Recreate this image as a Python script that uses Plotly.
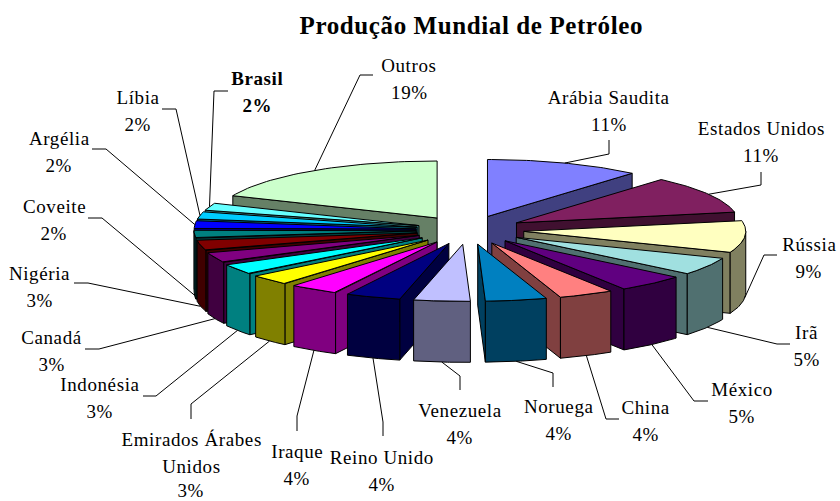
import math
import plotly.graph_objects as go

TITLE = "Produção Mundial de Petróleo"
countries = ["Arábia Saudita", "Estados Unidos", "Rússia", "Irã", "México", "China", "Noruega",
             "Venezuela", "Reino Unido", "Iraque", "Emirados Árabes Unidos", "Indonésia", "Canadá",
             "Nigéria", "Coveite", "Argélia", "Líbia", "Brasil", "Outros"]
shares = [11.3, 10.7, 9, 5, 5, 4, 4.45, 4.1, 4, 3.6, 3, 3, 2.9, 2.9, 2.2, 2.15, 2.05, 2.05, 18.6]
explode = [56, 56, 56, 56, 56, 56, 56, 56, 56, 56, 56, 55, 53, 52, 52, 52, 52, 52, 56]
top_colors = ["#8080FF", "#802060", "#FFFFC0", "#A0E0E0", "#600080", "#FF8080", "#0080C0",
              "#C0C0FF", "#000080", "#FF00FF", "#FFFF00", "#00FFFF", "#800080", "#800000",
              "#008080", "#0000FF", "#00CCFF", "#66FFFF", "#CCFFCC"]
side_colors = ["#404080", "#401030", "#808060", "#507070", "#300040", "#804040", "#004060",
               "#606080", "#000040", "#800080", "#808000", "#008080", "#400040", "#400000",
               "#004040", "#000080", "#006680", "#338080", "#668066"]

# projection of the pie (plot units equal screen pixels)
CX, CY, RX, RY, DEPTH = 468, 230, 222, 57, 61

# label layout: centre x, y of first text line, elbow and end of the leader line
label_x = [609, 761, 809, 807, 742, 646, 559, 460, 382, 297, 191, 100, 52, 40, 54, 59, 138, 257, 409]
label_y = [97, 128, 244, 332, 389, 407, 406, 410, 457, 451, 439, 384, 337, 273, 206, 138, 97, 78, 65]
elbow = [(609, 154), (761, 185), (764, 255), (777, 344), (694, 401), (606, 419), (553, 373),
         (460, 376), (383, 422), (297, 416), (191, 404), (156, 396), (99, 349), (88, 283),
         (102, 218), (106, 149), (176, 109), (214, 91), (360, 75)]
leader_end = [(609, 140), (761, 172), (777, 255), (790, 344), (708, 401), (619, 419), (553, 387),
              (460, 390), (383, 436), (297, 431), (191, 419), (143, 396), (85, 349), (74, 283),
              (88, 218), (92, 149), (162, 109), (228, 91), (373, 75)]

LINE = 27
FONT = "Liberation Serif"
fig = go.Figure()
total = sum(shares)

slices = []
acc = 0
for i, v in enumerate(shares):
    a0 = acc / total * 2 * math.pi
    acc += v
    a1 = acc / total * 2 * math.pi
    slices.append((i, a0, a1, (a0 + a1) / 2))


def apex(mid, d):
    return CX + d * math.sin(mid), CY - d * RY / RX * math.cos(mid)


def rim(ax, ay, t):
    return ax + RX * math.sin(t), ay - RY * math.cos(t)


def poly(pts, fill, name):
    xs = [p[0] for p in pts] + [pts[0][0]]
    ys = [p[1] for p in pts] + [pts[0][1]]
    fig.add_trace(go.Scatter(x=xs, y=ys, mode="lines", fill="toself", fillcolor=fill,
                             line=dict(color="black", width=1), hoverinfo="skip",
                             name=name, showlegend=False))


for i, a0, a1, mid in sorted(slices, key=lambda s: -math.cos(s[3])):
    ax, ay = apex(mid, explode[i])
    name = countries[i]
    # radial walls
    for a, vis in ((a0, math.sin(a0) < -1e-9), (a1, math.sin(a1) > 1e-9)):
        if vis:
            rx, ry = rim(ax, ay, a)
            poly([(ax, ay), (rx, ry), (rx, ry + DEPTH), (ax, ay + DEPTH)], side_colors[i], name)
    # outer wall
    lo, hi = max(a0, math.pi / 2), min(a1, 3 * math.pi / 2)
    if hi > lo:
        n = 30
        arc = [rim(ax, ay, lo + (hi - lo) * k / n) for k in range(n + 1)]
        poly(arc + [(x, y + DEPTH) for x, y in reversed(arc)], side_colors[i], name)
    # top face
    n = 40
    poly([(ax, ay)] + [rim(ax, ay, a0 + (a1 - a0) * k / n) for k in range(n + 1)], top_colors[i], name)

# leader lines start on the rim of their slice
for i, a0, a1, mid in slices:
    ax, ay = apex(mid, explode[i])
    sx, sy = rim(ax, ay, mid)
    if math.cos(mid) < 0 and i != 15:
        sy += DEPTH
    ex, ey = elbow[i]
    lx, ly = leader_end[i]
    fig.add_trace(go.Scatter(x=[sx, ex, lx], y=[sy, ey, ly], mode="lines",
                             line=dict(color="black", width=1), hoverinfo="skip", showlegend=False))

annotations = []


def label(text, x, y, size=19, bold=False):
    annotations.append(dict(x=x, y=y, xref="x", yref="y", text=f"<b>{text}</b>" if bold else text,
                            showarrow=False, xanchor="center", yanchor="middle",
                            font=dict(family=FONT, size=size, color="black")))


label(TITLE, 471, 25, size=25, bold=True)
for i, name in enumerate(countries):
    lines = ["Emirados Árabes", "Unidos"] if name.startswith("Emirados") else [name]
    lines = lines + [f"{round(shares[i])}%"]
    for k, t in enumerate(lines):
        label(t, label_x[i], label_y[i] + k * LINE - (3 if k == 2 else 0), bold=name == "Brasil")

fig.update_layout(width=840, height=501, margin=dict(l=0, r=0, t=0, b=0),
                  paper_bgcolor="white", plot_bgcolor="white", showlegend=False,
                  annotations=annotations,
                  xaxis=dict(range=[0, 840], visible=False, fixedrange=True),
                  yaxis=dict(range=[501, 0], visible=False, fixedrange=True))

tweaks = """
document.body.style.margin='0';
document.querySelectorAll('.annotation-text').forEach(function(t){t.style.letterSpacing='0.6px';});
"""
fig.write_html("out.html", post_script=tweaks, config={"displayModeBar": False})
